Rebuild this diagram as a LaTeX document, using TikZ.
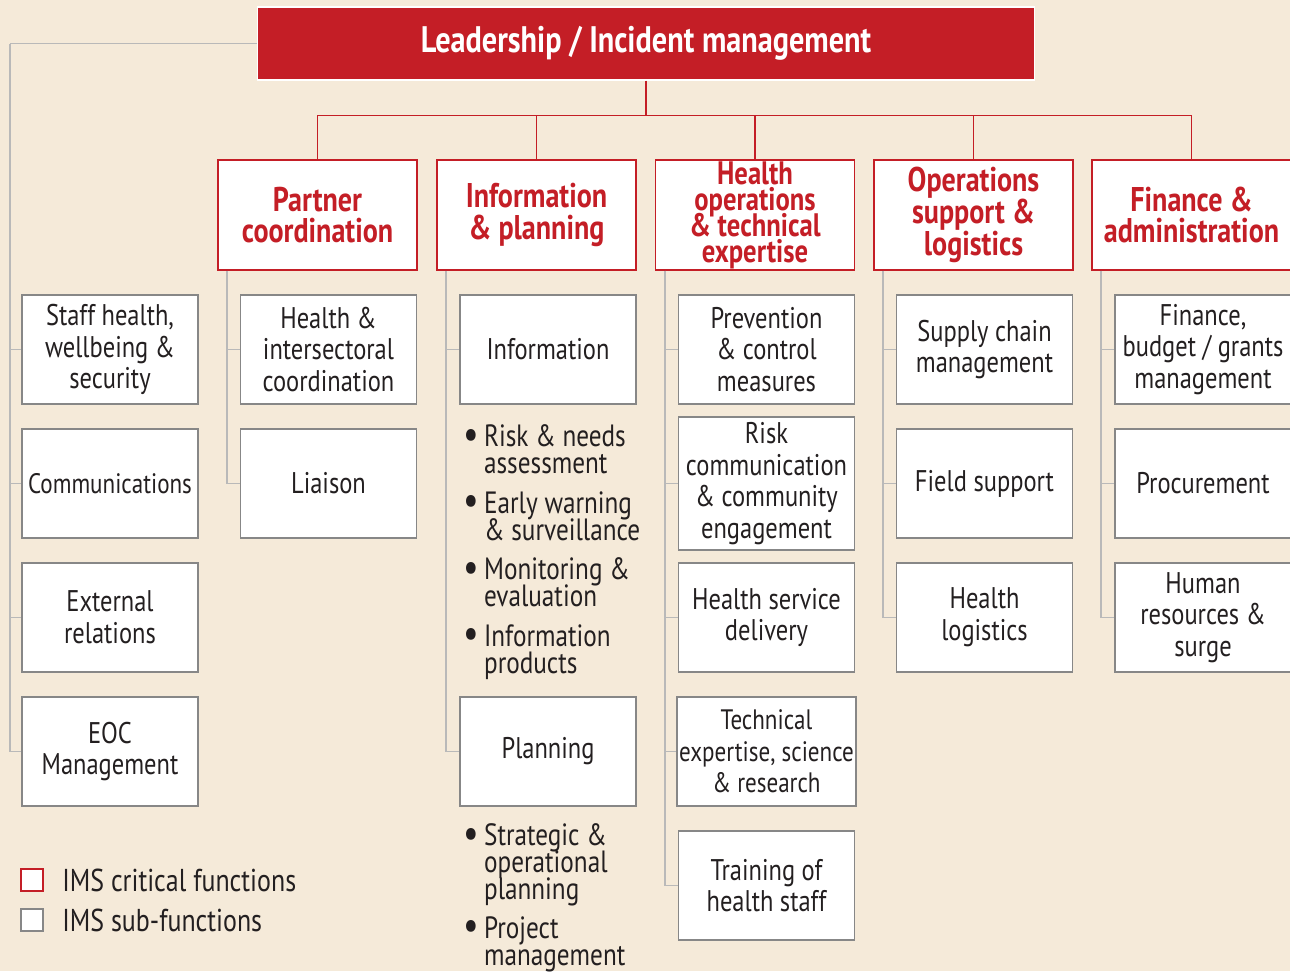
\documentclass[tikz,border=0pt]{standalone}
\usepackage{fontspec}
\setmainfont{PT Sans}[FakeStretch=0.82]
\usetikzlibrary{positioning,calc}
\definecolor{imsred}{RGB}{196,30,38}
\definecolor{paper}{RGB}{245,234,217}
\definecolor{ink}{RGB}{35,31,32}
\definecolor{boxgray}{RGB}{135,135,135}
\definecolor{linegray}{RGB}{185,185,185}
\newcommand{\tightlines}{\lineskiplimit=-100pt\relax}
\tikzset{
  lead/.style={fill=imsred,draw=white,line width=0.6pt,text=white,font=\fontsize{21}{24}\selectfont\bfseries,minimum width=15.56cm,minimum height=1.46cm},
  crit/.style={draw=imsred,fill=white,line width=1.1pt,text=imsred,align=center,font=\fontsize{19.5}{18}\selectfont\bfseries,minimum width=3.98cm,minimum height=2.2cm,inner sep=1pt},
  sub/.style={draw=boxgray,fill=white,line width=1.1pt,text=ink,align=center,font=\fontsize{17}{18}\selectfont\tightlines,minimum width=3.52cm,minimum height=2.18cm,inner sep=1pt},
  narrow/.style={font=\fontsize{16}{18}\selectfont\tightlines},
  bul/.style={text=ink,align=left,anchor=north west,font=\fontsize{17.5}{15.3}\selectfont\tightlines,inner sep=0pt},
  redlink/.style={draw=imsred,line width=1.1pt},
  link/.style={draw=linegray,line width=1.1pt},
  legbox/.style={draw=#1,fill=white,line width=1.1pt,minimum size=0.44cm,inner sep=0pt},
  legtxt/.style={text=ink,anchor=west,font=\fontsize{18}{20}\selectfont,inner sep=0pt}
}
\newcommand{\bdot}{\raisebox{-1pt}{\fontsize{24}{15}\selectfont\textbullet}\,}
\newcommand{\bitem}[2]{\bdot #1\\\phantom{\bdot}#2}

\begin{document}
\begin{tikzpicture}[x=0.02cm,y=-0.02cm]
\useasboundingbox (0,0) rectangle (1290,971);
\fill[paper] (0,0) rectangle (1290,971);
% top and critical functions
\node[lead] (LD) at (646,43.5) {Leadership / Incident management};
\node[crit] (PC) at (317.5,215) {Partner\\coordination};
\node[crit] (IP) at (536.5,215) {Information\\\& planning};
\node[crit,inner sep=0pt,font=\fontsize{18.5}{14.8}\selectfont\bfseries\tightlines] (HO) at (755,215) {Health\\operations\\\& technical\\expertise};
\node[crit] (OS) at (973.5,215) {Operations\\support \&\\logistics};
\node[crit] (FA) at (1191.5,215) {Finance \&\\administration};
\coordinate (bar) at ($(LD.south)+(0,35)$);
\draw[redlink] (LD.south) -- (bar);
\foreach \c in {PC,IP,HO,OS,FA}
  \draw[redlink] (bar) -| (\c.north);
% left column
\node[sub] (SH) at (110,349.5) {Staff health,\\wellbeing \&\\security};
\node[sub,narrow] (CM) at (110,483.5) {Communications};
\node[sub] (ER) at (110,617.5) {External\\relations};
\node[sub] (EOC) at (110,751.5) {EOC\\Management};
\coordinate (lc) at (10,43.5);
\draw[link] (LD.west) -- (lc);
\foreach \b in {SH,CM,ER,EOC}
  \draw[link] (lc) |- (\b.west);
% sub-functions
\node[sub] (HI) at (328.5,349.5) {Health \&\\intersectoral\\coordination};
\node[sub] (LI) at (328.5,483.5) {Liaison};
\node[sub] (IN) at (548,349.5) {Information};
\node[sub] (PL) at (548,751.5) {Planning};
\node[sub] (PR) at (766.5,349.5) {Prevention\\\& control\\measures};
\node[sub,minimum height=2.66cm] (RC) at (766.5,483.5) {Risk\\communication\\\& community\\engagement};
\node[sub] (HS) at (766.5,617.5) {Health service\\delivery};
\node[sub,narrow] (TE) at (766.5,751.5) {Technical\\expertise, science\\\& research};
\node[sub] (TR) at (766.5,885.5) {Training of\\health staff};
\node[sub] (SC) at (984.5,349.5) {Supply chain\\management};
\node[sub] (FS) at (984.5,483.5) {Field support};
\node[sub] (HL) at (984.5,617.5) {Health\\logistics};
\node[sub] (FB) at (1203,349.5) {Finance,\\budget / grants\\management};
\node[sub] (PM) at (1203,483.5) {Procurement};
\node[sub] (HR) at (1203,617.5) {Human\\resources \&\\surge};
\foreach \p/\b in {PC/HI,PC/LI,IP/IN,IP/PL,HO/PR,HO/RC,HO/HS,HO/TE,HO/TR,OS/SC,OS/FS,OS/HL,FA/FB,FA/PM,FA/HR}
  \draw[link] ($(\p.south west)+(10,0)$) |- (\b.west);
% bullet lists
\node[bul] (B1) at (463,424) {\bitem{Risk \& needs}{assessment}};
\node[bul] (B2) at (463,491) {\bitem{Early warning}{\& surveillance}};
\node[bul] (B3) at (463,557) {\bitem{Monitoring \&}{evaluation}};
\node[bul] (B4) at (463,624) {\bitem{Information}{products}};
\node[bul] (B5) at (463,823) {\bdot Strategic \&\\\phantom{\bdot}operational\\\phantom{\bdot}planning};
\node[bul] (B6) at (463,916) {\bitem{Project}{management}};
% legend
\node[legbox=imsred] (K1) at (32,880) {};
\node[legbox=boxgray] (K2) at (32,920) {};
\node[legtxt,right=0.36cm of K1] (T1) {IMS critical functions};
\node[legtxt,right=0.36cm of K2] (T2) {IMS sub-functions};
\end{tikzpicture}
\end{document}
